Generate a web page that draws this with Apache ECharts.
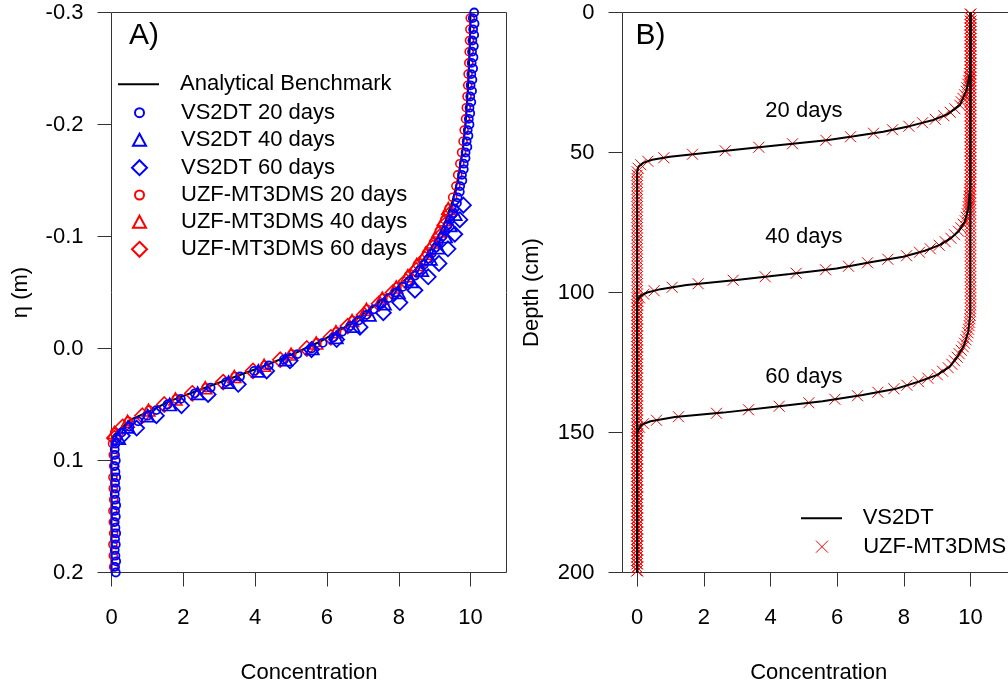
<!DOCTYPE html>
<html><head><meta charset="utf-8">
<script src="https://cdn.jsdelivr.net/npm/echarts@6/dist/echarts.min.js"></script>
<style>html,body{margin:0;padding:0;background:#fff}#c{width:1008px;height:684px}</style>
</head><body><div id="c"></div>
<script>
// ---------------- Panel A data: [concentration, eta (m)] ----------------
const benchmark = [[0,0.2],[0,0.086],[0.05,0.078],[0.2,0.073],[0.56,0.063],[1.07,0.056],[1.62,0.047],[2.2,0.040],[2.74,0.0335],[3.5,0.0245],[4.3,0.015],[5.15,0.0036],[5.8,-0.006],[6.4,-0.017],[6.9,-0.028],[7.4,-0.040],[7.9,-0.053],[8.4,-0.068],[8.8,-0.084],[9.1,-0.100],[9.3,-0.114],[9.5,-0.132],[9.65,-0.152],[9.78,-0.178],[9.87,-0.205],[9.93,-0.235],[9.97,-0.265],[10.0,-0.30]];

const vs2dt20 = [[10.10,-0.300],[10.06,-0.295],[10.11,-0.290],[10.07,-0.285],[10.10,-0.280],[10.05,-0.275],[10.09,-0.270],[10.04,-0.265],[10.08,-0.260],[10.03,-0.255],[10.07,-0.250],[10.02,-0.245],[10.05,-0.240],[10.00,-0.235],[10.04,-0.230],[9.99,-0.225],[10.02,-0.220],[9.97,-0.215],[9.99,-0.210],[9.95,-0.205],[9.97,-0.200],[9.92,-0.195],[9.94,-0.190],[9.89,-0.185],[9.91,-0.180],[9.86,-0.175],[9.86,-0.170],[9.81,-0.165],[9.81,-0.160],[9.76,-0.155],[9.77,-0.150],[9.71,-0.145],[9.70,-0.140],[9.64,-0.135],[9.62,-0.130],[9.55,-0.125],[9.50,-0.120],[9.43,-0.115],[9.36,-0.110],[9.29,-0.105],[9.21,-0.100],[9.12,-0.095],[9.02,-0.090],[8.92,-0.085],[8.82,-0.080],[8.70,-0.075],[8.58,-0.070],[8.45,-0.065],[8.29,-0.060],[8.11,-0.055],[7.91,-0.050],[7.72,-0.045],[7.52,-0.040],[7.31,-0.035],[7.10,-0.030],[6.88,-0.025],[6.65,-0.020],[6.42,-0.015],[6.18,-0.010],[5.88,-0.005],[5.57,0.000],[5.18,0.005],[4.80,0.010],[4.38,0.015],[3.97,0.020],[3.58,0.025],[3.19,0.030],[2.76,0.035],[2.32,0.040],[1.93,0.045],[1.56,0.050],[1.25,0.055],[1.00,0.060],[0.74,0.065],[0.50,0.070],[0.28,0.075],[0.16,0.080],[0.11,0.085],[0.09,0.090],[0.10,0.095],[0.12,0.100],[0.09,0.105],[0.11,0.110],[0.13,0.115],[0.10,0.120],[0.12,0.125],[0.09,0.130],[0.11,0.135],[0.13,0.140],[0.10,0.145],[0.12,0.150],[0.09,0.155],[0.11,0.160],[0.13,0.165],[0.10,0.170],[0.12,0.175],[0.09,0.180],[0.11,0.185],[0.13,0.190],[0.10,0.195],[0.12,0.200]];
const vs2dt40 = [[9.57,-0.12],[9.43,-0.11],[9.30,-0.10],[9.10,-0.09],[8.88,-0.08],[8.64,-0.07],[8.35,-0.06],[7.99,-0.05],[7.60,-0.04],[7.18,-0.03],[6.73,-0.02],[6.26,-0.01],[5.59,0.00],[4.85,0.01],[4.09,0.02],[3.26,0.03],[2.40,0.04],[1.62,0.05],[1.01,0.06],[0.46,0.07],[0.20,0.08]];
const vs2dt60 = [[9.80,-0.128],[9.70,-0.115],[9.56,-0.102],[9.37,-0.089],[9.12,-0.076],[8.82,-0.064],[8.45,-0.052],[8.03,-0.041],[7.57,-0.032],[6.92,-0.019],[6.27,-0.008],[5.57,0.001],[4.97,0.011],[4.32,0.020],[3.53,0.032],[2.69,0.041],[1.95,0.051],[1.25,0.060],[0.70,0.071],[0.30,0.078]];
const uzf20A = [[9.99,-0.295],[9.98,-0.285],[9.97,-0.275],[9.96,-0.265],[9.95,-0.255],[9.93,-0.245],[9.92,-0.235],[9.90,-0.225],[9.88,-0.215],[9.86,-0.205],[9.82,-0.195],[9.79,-0.185],[9.75,-0.175],[9.70,-0.165],[9.64,-0.155],[9.59,-0.145],[9.50,-0.135],[9.40,-0.125],[9.28,-0.115],[9.13,-0.105],[8.97,-0.095],[8.77,-0.085],[8.52,-0.075],[8.27,-0.065],[7.95,-0.055],[7.56,-0.045],[7.12,-0.035],[6.72,-0.025],[6.27,-0.015],[5.72,-0.005],[5.02,0.005],[4.27,0.015],[3.44,0.025],[2.63,0.035],[1.80,0.045],[1.05,0.055],[0.47,0.065],[0.09,0.075],[0.03,0.085],[0.05,0.095],[0.06,0.105],[0.04,0.115],[0.05,0.125],[0.06,0.135],[0.04,0.145],[0.05,0.155],[0.06,0.165],[0.04,0.175],[0.05,0.185],[0.06,0.195]];
const uzf40A = [[9.38,-0.125],[9.26,-0.115],[9.11,-0.105],[8.95,-0.095],[8.75,-0.085],[8.50,-0.075],[8.25,-0.065],[7.93,-0.055],[7.54,-0.045],[7.10,-0.035],[6.70,-0.025],[6.25,-0.015],[5.70,-0.005],[5.00,0.005],[4.25,0.015],[3.42,0.025],[2.61,0.035],[1.78,0.045],[1.03,0.055],[0.45,0.065],[0.08,0.075]];
const uzf60A = [[9.42,-0.12],[9.28,-0.11],[9.15,-0.10],[8.95,-0.09],[8.73,-0.08],[8.49,-0.07],[8.20,-0.06],[7.84,-0.05],[7.45,-0.04],[7.03,-0.03],[6.58,-0.02],[6.11,-0.01],[5.44,0.00],[4.70,0.01],[3.94,0.02],[3.11,0.03],[2.25,0.04],[1.47,0.05],[0.86,0.06],[0.31,0.07],[0.08,0.08]];

const xTicksA = [0,2,4,6,8,10];
const yTicksA = [-0.3,-0.2,-0.1,0,0.1,0.2];

// ---------------- Panel B data ----------------
// VS2DT profiles: [concentration, depth (cm)]
const vsLine20 = [[10,0],[9.98,21.7],[9.88,27.7],[9.68,33.1],[9.3,36.4],[8.88,38.4],[8.2,40.5],[7.38,42.6],[6.5,44.2],[5.68,45.6],[4.08,47.6],[2.38,49.7],[0.98,51.5],[0.45,52.6],[0.18,53.7],[0.04,55],[0,57],[0,200]];
const vsLine40 = [[10,0],[9.99,62],[9.93,70],[9.83,74.7],[9.65,78],[9.4,80.7],[9.08,83],[8.63,85.1],[7.98,87.2],[7.08,89],[5.98,91.4],[4.58,93.4],[2.98,95.5],[1.48,97.3],[0.7,98.8],[0.3,100],[0.1,101.2],[0,103],[0,200]];
const vsLine60 = [[10,0],[9.99,108],[9.93,114],[9.8,119],[9.6,123],[9.38,126.5],[9.0,129.4],[8.46,131.8],[7.73,134.5],[6.76,136.6],[5.56,138.8],[4.13,140.8],[2.58,142.9],[1.13,144.5],[0.4,146],[0.12,147.3],[0,150],[0,200]];

// UZF-MT3DMS cell-centre depths (cm) and concentrations
const uzfDepth = [0.625,1.875,3.125,4.375,5.625,6.875,8.125,9.375,10.625,11.875,
13.125,14.375,15.625,16.875,18.125,19.375,20.625,21.875,23.125,24.375,
25.625,26.875,28.125,29.375,30.625,31.875,33.125,34.375,35.625,36.875,
38.125,39.375,40.625,41.875,43.125,44.375,45.625,46.875,48.125,49.375,
50.625,51.875,53.125,54.375,55.625,56.875,58.125,59.375,60.625,61.875,
63.125,64.375,65.625,66.875,68.125,69.375,70.625,71.875,73.125,74.375,
75.625,76.875,78.125,79.375,80.625,81.875,83.125,84.375,85.625,86.875,
88.125,89.375,90.625,91.875,93.125,94.375,95.625,96.875,98.125,99.375,
100.625,101.875,103.125,104.375,105.625,106.875,108.125,109.375,110.625,111.875,
113.125,114.375,115.625,116.875,118.125,119.375,120.625,121.875,123.125,124.375,
125.625,126.875,128.125,129.375,130.625,131.875,133.125,134.375,135.625,136.875,
138.125,139.375,140.625,141.875,143.125,144.375,145.625,146.875,148.125,149.375,
150.625,151.875,153.125,154.375,155.625,156.875,158.125,159.375,160.625,161.875,
163.125,164.375,165.625,166.875,168.125,169.375,170.625,171.875,173.125,174.375,
175.625,176.875,178.125,179.375,180.625,181.875,183.125,184.375,185.625,186.875,
188.125,189.375,190.625,191.875,193.125,194.375,195.625,196.875,198.125,199.375];
const uzf20Conc = [10,10,10,10,10,10,10,10,10,10,
10,10,10,10,10,10,10,9.98,9.96,9.94,
9.92,9.89,9.87,9.82,9.77,9.72,9.68,9.53,9.39,9.2,
8.94,8.56,8.15,7.66,7.09,6.4,5.66,4.66,3.65,2.64,
1.66,0.8,0.32,0.11,0.03,0,0,0,0,0,
0,0,0,0,0,0,0,0,0,0, 0,0,0,0,0,0,0,0,0,0, 0,0,0,0,0,0,0,0,0,0,
0,0,0,0,0,0,0,0,0,0, 0,0,0,0,0,0,0,0,0,0, 0,0,0,0,0,0,0,0,0,0,
0,0,0,0,0,0,0,0,0,0, 0,0,0,0,0,0,0,0,0,0, 0,0,0,0,0,0,0,0,0,0,
0,0,0,0,0,0,0,0,0,0, 0,0,0,0,0,0,0,0,0,0];
const uzf40Conc = [10,10,10,10,10,10,10,10,10,10, 10,10,10,10,10,10,10,10,10,10,
10,10,10,10,10,10,10,10,10,10, 10,10,10,10,10,10,10,10,10,10,
10,10,10,10,10,10,10,10,9.99,9.99,
9.98,9.97,9.96,9.95,9.94,9.93,9.92,9.9,9.87,9.84,
9.78,9.71,9.64,9.52,9.41,9.24,9.06,8.79,8.47,8.08,
7.52,6.91,6.34,5.65,4.77,3.84,2.88,1.83,1.05,0.51,
0.2,0.07,0.02,0,0,0,0,0,0,0,
0,0,0,0,0,0,0,0,0,0, 0,0,0,0,0,0,0,0,0,0, 0,0,0,0,0,0,0,0,0,0,
0,0,0,0,0,0,0,0,0,0, 0,0,0,0,0,0,0,0,0,0, 0,0,0,0,0,0,0,0,0,0,
0,0,0,0,0,0,0,0,0,0];
const uzf60Conc = [10,10,10,10,10,10,10,10,10,10, 10,10,10,10,10,10,10,10,10,10,
10,10,10,10,10,10,10,10,10,10, 10,10,10,10,10,10,10,10,10,10,
10,10,10,10,10,10,10,10,10,10, 10,10,10,10,10,10,10,10,10,10,
10,10,10,10,10,10,10,10,10,10, 10,10,10,10,10,10,10,10,10,10,
10,10,10,10,10,10,9.99,9.98,9.97,9.96,
9.94,9.92,9.89,9.86,9.82,9.78,9.72,9.66,9.6,9.52,
9.44,9.33,9.16,9.0,8.72,8.44,8.09,7.7,7.22,6.61,
5.93,5.15,4.26,3.34,2.38,1.24,0.58,0.19,0.07,0.02,
0,0,0,0,0,0,0,0,0,0, 0,0,0,0,0,0,0,0,0,0, 0,0,0,0,0,0,0,0,0,0,
0,0,0,0,0,0,0,0,0,0];

const dayLabels = ['20 days','40 days','60 days'];
const dayLabelConc = [5, 5, 5];
const dayLabelDepth = [35, 80, 130];

const xTicksB = [0,2,4,6,8,10];
const yTicksB = [0,50,100,150,200];

// ---------------- build ----------------
const FONT = "'Liberation Sans', Arial, Helvetica, sans-serif";
const AXC = '#333';
const BLUE = '#0000ff', RED = '#ff0000';
const CROSS = 'path://M0,0L10,10M10,0L0,10';

function pairsFrom(xs, ys){ return xs.map((x,i)=>[x, ys[i]]); }

function xAx(gi, min, max, ticks){
  return {gridIndex:gi, type:'value', min:min, max:max,
    axisLine:{show:false, onZero:false},
    axisTick:{show:true, inside:false, length:14, customValues:ticks, lineStyle:{color:AXC, width:1}},
    axisLabel:{show:true, customValues:ticks, margin:34, fontSize:22, color:'#000', fontFamily:FONT},
    splitLine:{show:false},
    name:'Concentration', nameLocation:'middle', nameGap:89,
    nameTextStyle:{fontSize:22, color:'#000', fontFamily:FONT}};
}
function yAx(gi, min, max, ticks, inverse, name, fmt){
  return {gridIndex:gi, type:'value', min:min, max:max, inverse:inverse,
    axisLine:{show:false, onZero:false},
    axisTick:{show:true, inside:false, length:14, customValues:ticks, lineStyle:{color:AXC, width:1}},
    axisLabel:{show:true, customValues:ticks, margin:28, fontSize:22, color:'#000', fontFamily:FONT, formatter:fmt, padding:[5,0,0,0]},
    splitLine:{show:false},
    name:name, nameLocation:'middle', nameGap:80, nameRotate:90,
    nameTextStyle:{fontSize:22, color:'#000', fontFamily:FONT}};
}
function sc(name, data, symbol, size, color, bw, xi){
  return {type:'scatter', name:name, xAxisIndex:xi, yAxisIndex:xi, data:data,
    symbol:symbol, symbolSize:size, silent:true,
    itemStyle:{color:'rgba(0,0,0,0)', borderColor:color, borderWidth:bw, opacity:1},
    emphasis:{disabled:true}};
}

// legend rows: icon centre x, row centre y, icon box size, text start x
const legendRows = [
  {name:'Analytical Benchmark', cx:138.5, y:84.3, w:41, h:2, icon:'rect', tx:180},
  {name:'VS2DT 20 days', cx:138.5, y:112.7, w:9, h:9, tx:180},
  {name:'VS2DT 40 days', cx:138.5, y:139.8, w:13, h:12, tx:180},
  {name:'VS2DT 60 days', cx:138.5, y:167.7, w:15, h:15, tx:180},
  {name:'UZF-MT3DMS 20 days', cx:138.5, y:195, w:9, h:9, tx:180},
  {name:'UZF-MT3DMS 40 days', cx:138.5, y:221.7, w:13, h:12, tx:180},
  {name:'UZF-MT3DMS 60 days', cx:138.5, y:249.3, w:15, h:15, tx:180},
  {name:'VS2DT', cx:821.5, y:518.3, w:41, h:2, icon:'rect', tx:862.7},
  {name:'UZF-MT3DMS', cx:821.5, y:546.7, w:12, h:12, tx:862.7, bw:1}
];
const legends = legendRows.map(r => {
  const left = r.cx - r.w / 2;
  const pad = r.tx - (left + r.w + 5);
  const item = {name:r.name};
  if (r.icon) item.icon = r.icon;
  const lg = {
    show:true, orient:'vertical', left:left, top:r.y - 11, padding:0,
    itemWidth:r.w, itemHeight:r.h, selectedMode:false, data:[item],
    textStyle:{fontSize:22, lineHeight:22, color:'#000', fontFamily:FONT, padding:[0,0,0,pad]}
  };
  if (r.bw) lg.itemStyle = {borderWidth:r.bw};
  return lg;
});

const series = [
  {type:'line', name:'Analytical Benchmark', xAxisIndex:0, yAxisIndex:0, data:benchmark,
   symbol:'none', lineStyle:{color:'#000', width:2}, itemStyle:{color:'#000'}, silent:true, z:1},
  sc('UZF-MT3DMS 20 days', uzf20A, 'circle', 8, RED, 1.6, 0),
  sc('UZF-MT3DMS 40 days', uzf40A, 'triangle', [13,12], RED, 1.6, 0),
  sc('UZF-MT3DMS 60 days', uzf60A, 'diamond', 15, RED, 1.6, 0),
  sc('VS2DT 20 days', vs2dt20, 'circle', 8, BLUE, 1.8, 0),
  sc('VS2DT 40 days', vs2dt40, 'triangle', [13,12], BLUE, 1.8, 0),
  sc('VS2DT 60 days', vs2dt60, 'diamond', 15, BLUE, 1.8, 0),
  sc('UZF-MT3DMS', pairsFrom(uzf20Conc, uzfDepth), CROSS, 11, RED, 1, 1),
  sc('UZF-MT3DMS', pairsFrom(uzf40Conc, uzfDepth), CROSS, 11, RED, 1, 1),
  sc('UZF-MT3DMS', pairsFrom(uzf60Conc, uzfDepth), CROSS, 11, RED, 1, 1),
  {type:'line', name:'VS2DT', xAxisIndex:1, yAxisIndex:1, data:vsLine20, symbol:'none',
   lineStyle:{color:'#000', width:2}, itemStyle:{color:'#000'}, silent:true, z:3},
  {type:'line', name:'VS2DT', xAxisIndex:1, yAxisIndex:1, data:vsLine40, symbol:'none',
   lineStyle:{color:'#000', width:2}, itemStyle:{color:'#000'}, silent:true, z:3},
  {type:'line', name:'VS2DT', xAxisIndex:1, yAxisIndex:1, data:vsLine60, symbol:'none',
   lineStyle:{color:'#000', width:2}, itemStyle:{color:'#000'}, silent:true, z:3},
  {type:'scatter', name:'dayLabels', xAxisIndex:1, yAxisIndex:1, silent:true, z:5,
   data: dayLabels.map((t,i)=>({name:t, value:[dayLabelConc[i], dayLabelDepth[i]]})),
   symbol:'circle', symbolSize:1, itemStyle:{color:'rgba(0,0,0,0)', opacity:1},
   label:{show:true, position:'inside', formatter:'{b}', fontSize:22, color:'#000', opacity:1,
          textBorderWidth:0, fontFamily:FONT}}
];

const option = {
  animation:false,
  backgroundColor:'#fff',
  grid:[
    {left:111.5, top:12.5, width:395, height:560, show:true, borderColor:AXC, borderWidth:1, backgroundColor:'rgba(0,0,0,0)', containLabel:false, outerBoundsMode:'none'},
    {left:622.5, top:12.5, width:392.4, height:560, show:true, borderColor:AXC, borderWidth:1, backgroundColor:'rgba(0,0,0,0)', containLabel:false, outerBoundsMode:'none'}
  ],
  xAxis:[ xAx(0, 0, 11, xTicksA), xAx(1, -0.44, 11.33, xTicksB) ],
  yAxis:[
    yAx(0, -0.3, 0.2, yTicksA, true, 'η (m)', v => Number(v).toFixed(1)),
    yAx(1, 0, 200, yTicksB, true, 'Depth (cm)', v => String(v))
  ],
  legend: legends,
  graphic:[
    {type:'text', left:129, top:21, style:{text:'A)', font:'30px ' + FONT, fill:'#000'}},
    {type:'text', left:635.5, top:21, style:{text:'B)', font:'30px ' + FONT, fill:'#000'}}
  ],
  series: series
};
const chart = echarts.init(document.getElementById('c'), null, {renderer:'canvas'});
chart.setOption(option);
</script></body></html>
